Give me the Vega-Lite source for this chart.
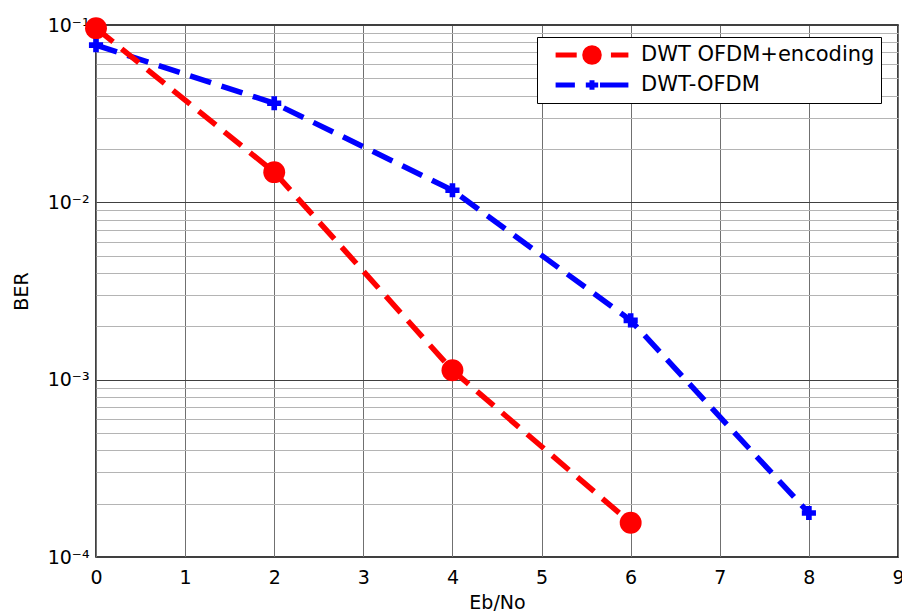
{
  "$schema": "https://vega.github.io/schema/vega-lite/v6.json",
  "width": 802,
  "height": 532,
  "autosize": {"type": "none"},
  "padding": {"left": 96, "top": 25, "right": 4, "bottom": 57},
  "background": "white",
  "config": {"view": {"stroke": "black", "strokeWidth": 1.5}, "font": "DejaVu Sans"},
  "data": {
    "values": [
      {"snr": 0, "ber": 0.096, "series": "DWT OFDM+encoding"},
      {"snr": 2, "ber": 0.0148, "series": "DWT OFDM+encoding"},
      {"snr": 4, "ber": 0.00113, "series": "DWT OFDM+encoding"},
      {"snr": 6, "ber": 0.000156, "series": "DWT OFDM+encoding"},
      {"snr": 0, "ber": 0.077, "series": "DWT-OFDM"},
      {"snr": 2, "ber": 0.0362, "series": "DWT-OFDM"},
      {"snr": 4, "ber": 0.0117, "series": "DWT-OFDM"},
      {"snr": 6, "ber": 0.00216, "series": "DWT-OFDM"},
      {"snr": 8, "ber": 0.000177, "series": "DWT-OFDM"}
    ]
  },
  "encoding": {
    "x": {
      "field": "snr", "type": "quantitative",
      "scale": {"domain": [0, 9], "nice": false, "zero": false},
      "axis": {
        "title": "Eb/No", "titleFont": "DejaVu Sans", "titleFontSize": 19, "titleFontWeight": "normal", "titleColor": "black", "titlePadding": 6,
        "values": [0, 1, 2, 3, 4, 5, 6, 7, 8, 9],
        "labelFont": "DejaVu Sans", "labelFontSize": 19, "labelColor": "black", "labelPadding": 11, "labelFlush": false, "labelOverlap": false,
        "ticks": false, "domain": false,
        "grid": true, "gridColor": "#707070", "gridWidth": 1
      }
    },
    "y": {
      "field": "ber", "type": "quantitative",
      "scale": {"type": "log", "domain": [0.0001, 0.1], "nice": false},
      "axis": {
        "title": "BER", "titleFont": "DejaVu Sans", "titleFontSize": 19, "titleFontWeight": "normal", "titleColor": "black", "titlePadding": 16,
        "values": [0.0001, 0.0002, 0.0003, 0.0004, 0.0005, 0.0006, 0.0007, 0.0008, 0.0009, 0.001, 0.002, 0.003, 0.004, 0.005, 0.006, 0.007, 0.008, 0.009, 0.01, 0.02, 0.03, 0.04, 0.05, 0.06, 0.07, 0.08, 0.09, 0.1],
        "labelExpr": "abs(log(datum.value)/LN10 + 1) < 0.001 ? '10⁻¹' : abs(log(datum.value)/LN10 + 2) < 0.001 ? '10⁻²' : abs(log(datum.value)/LN10 + 3) < 0.001 ? '10⁻³' : abs(log(datum.value)/LN10 + 4) < 0.001 ? '10⁻⁴' : ''",
        "labelFont": "DejaVu Sans", "labelFontSize": 19, "labelColor": "black", "labelPadding": 7, "labelOverlap": false, "labelBound": false, "labelDy": 2,
        "ticks": false, "domain": false,
        "grid": true,
        "gridColor": {"condition": {"test": "abs(log(datum.value)/LN10 - round(log(datum.value)/LN10)) < 0.001", "value": "#404040"}, "value": "#b4b4b4"},
        "gridWidth": 1
      }
    },
    "color": {
      "field": "series", "type": "nominal",
      "scale": {"domain": ["DWT OFDM+encoding", "DWT-OFDM"], "range": ["#ff0000", "#0000ff"]},
      "legend": {
        "orient": "none", "legendX": 441, "legendY": 12, "title": null,
        "strokeColor": "black", "fillColor": "white", "padding": 6,
        "labelFont": "DejaVu Sans", "labelFontSize": 21, "labelColor": "black", "labelLimit": 400,
        "symbolSize": 5300, "symbolStrokeWidth": 5, "clipHeight": 24, "rowPadding": 6,
        "labelOffset": 10, "symbolOffset": 10,
        "encode": {
          "symbols": {
            "update": {
              "shape": {"signal": "datum.value === 'DWT-OFDM' ? 'M-1,0H-0.47M0.22,0H1M-0.17,0H0.17M0,-0.13V0.13' : 'M-1,0H-0.42M0.52,0H1M0.2,0A0.2,0.2,0,1,1,-0.2,0A0.2,0.2,0,1,1,0.2,0Z'"},
              "fill": {"signal": "datum.value === 'DWT-OFDM' ? '#0000ff' : '#ff0000'"},
              "stroke": {"signal": "datum.value === 'DWT-OFDM' ? '#0000ff' : '#ff0000'"},
              "strokeWidth": {"value": 5},
              "opacity": {"value": 1}
            }
          }
        }
      }
    }
  },
  "layer": [
    {
      "transform": [{"filter": "datum.series === 'DWT-OFDM'"}],
      "mark": {"type": "line", "strokeWidth": 5.5, "strokeDash": [22, 11]}
    },
    {
      "transform": [{"filter": "datum.series === 'DWT-OFDM'"}],
      "mark": {"type": "point", "shape": "cross", "filled": true, "size": 200, "opacity": 1}
    },
    {
      "transform": [{"filter": "datum.series !== 'DWT-OFDM'"}],
      "mark": {"type": "line", "strokeWidth": 5.5, "strokeDash": [22, 11]}
    },
    {
      "transform": [{"filter": "datum.series !== 'DWT-OFDM'"}],
      "mark": {"type": "point", "shape": "circle", "filled": true, "size": 480, "opacity": 1}
    }
  ]
}
